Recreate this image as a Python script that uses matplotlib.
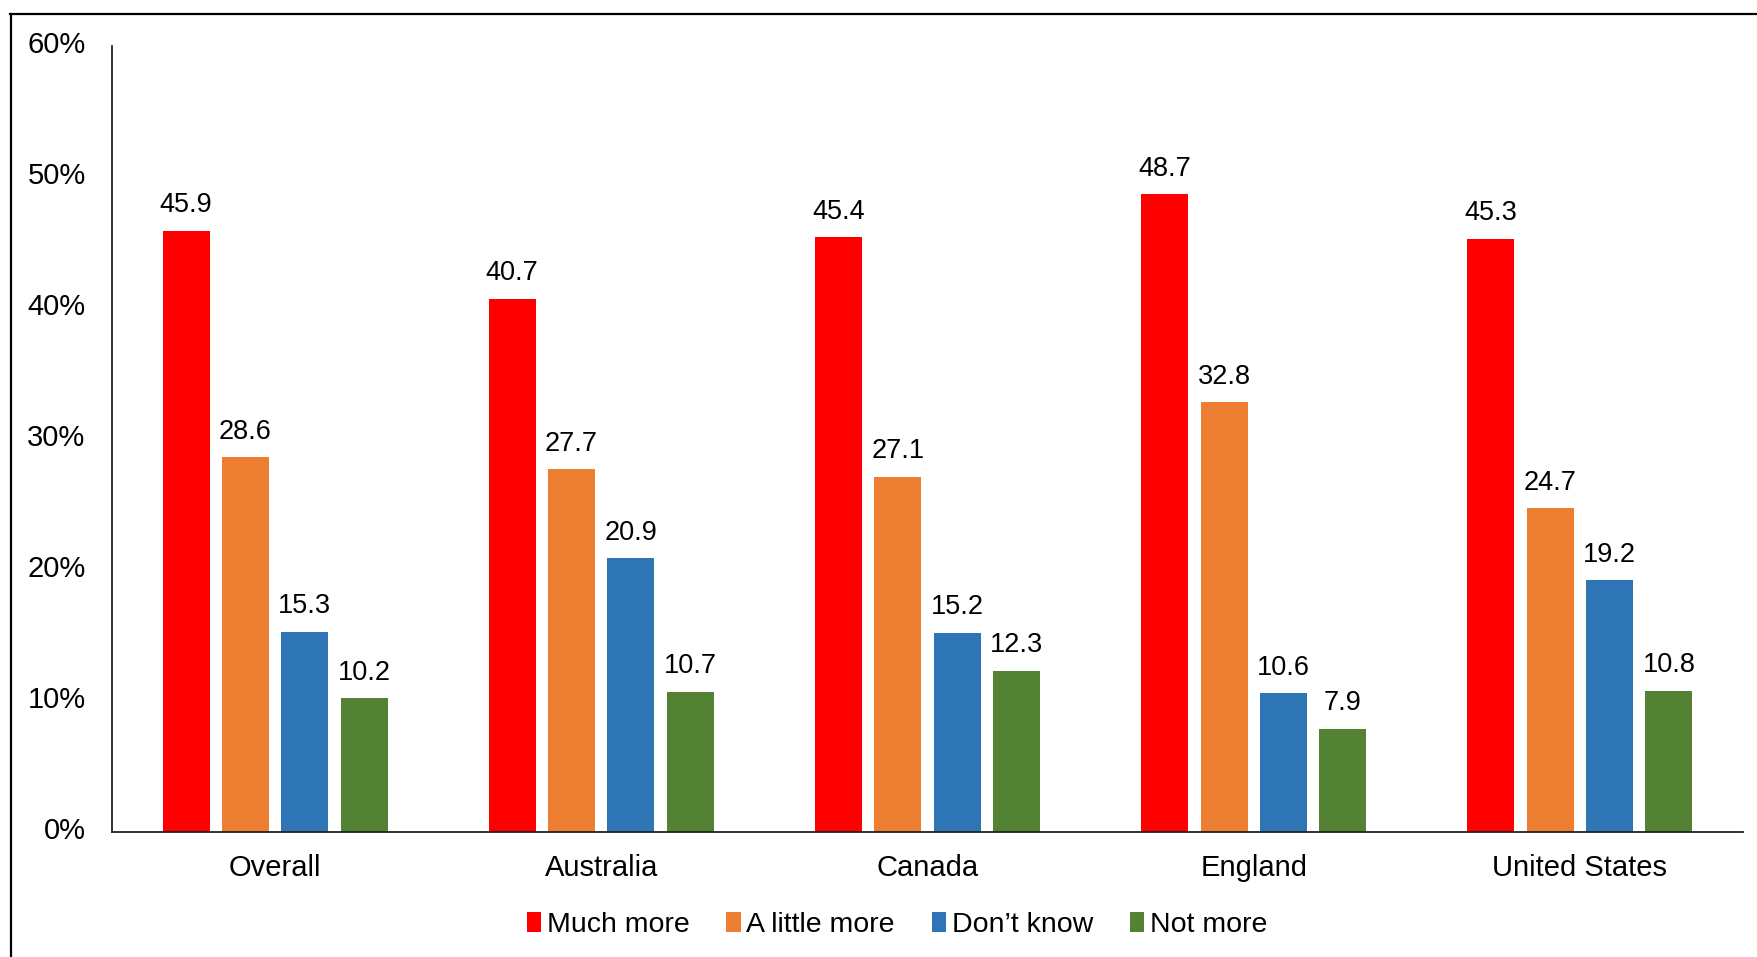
import numpy as np
import matplotlib.pyplot as plt
import matplotlib.transforms as mtransforms
from matplotlib.lines import Line2D

plt.rcParams['font.family'] = ['Liberation Sans', 'DejaVu Sans']

countries = ['Overall', 'Australia', 'Canada', 'England', 'United States']
series = ['Much more', 'A little more', 'Don\u2019t know', 'Not more']
much_more = [45.9, 40.7, 45.4, 48.7, 45.3]
little_more = [28.6, 27.7, 27.1, 32.8, 24.7]
dont_know = [15.3, 20.9, 15.2, 10.6, 19.2]
not_more = [10.2, 10.7, 12.3, 7.9, 10.8]
colors = ['#FF0000', '#ED7D31', '#2E75B6', '#548235']

fig = plt.figure(figsize=(17.58, 9.57), dpi=100)
ax = fig.add_axes([112 / 1758, 1 - 832 / 957, (1743 - 112) / 1758, (832 - 46) / 957])

x = np.arange(len(countries))
pitch, width = 0.182, 0.144
for i, (vals, c, lab) in enumerate(zip([much_more, little_more, dont_know, not_more], colors, series)):
    xs = x + (i - 1.5) * pitch
    ax.bar(xs, vals, width=width, color=c, label=lab)
    for xi, v in zip(xs, vals):
        ax.annotate('{:.1f}'.format(v), (xi, v), xytext=(0, 9), textcoords='offset points',
                    ha='center', va='bottom', fontsize=19.5)

ax.set_xlim(-0.5, 4.5)
ax.set_ylim(0, 60)
ax.set_yticks(np.arange(0, 61, 10))
ax.set_yticklabels(['{}%'.format(t) for t in range(0, 61, 10)])
ax.set_xticks(x)
ax.set_xticklabels(countries)
ax.tick_params(axis='both', length=0, labelsize=21)
ax.tick_params(axis='y', pad=19)
ax.tick_params(axis='x', pad=16)
# nudge y labels up a little, as in the original
shift = mtransforms.ScaledTranslation(0, 3 / 72, fig.dpi_scale_trans)
for lbl in ax.get_yticklabels():
    lbl.set_transform(lbl.get_transform() + shift)
for s in ('top', 'right'):
    ax.spines[s].set_visible(False)
for s in ('left', 'bottom'):
    ax.spines[s].set_color('#222222')
    ax.spines[s].set_linewidth(1.3)

fig.legend(loc='center', bbox_to_anchor=(897 / 1758, 1 - 925 / 957), ncol=4, frameon=False,
           fontsize=20.5, handlelength=0.5, handleheight=0.7, handletextpad=0.2, columnspacing=1.3)

# outer frame (cropped: only left and top edges visible)
fig.add_artist(Line2D([10.5 / 1758, 10.5 / 1758], [0, 1 - 14 / 957], transform=fig.transFigure,
                      color='black', lw=1.6))
fig.add_artist(Line2D([10 / 1758, 1], [1 - 14 / 957, 1 - 14 / 957], transform=fig.transFigure,
                      color='black', lw=1.6))

plt.savefig('out.png', dpi=100)
